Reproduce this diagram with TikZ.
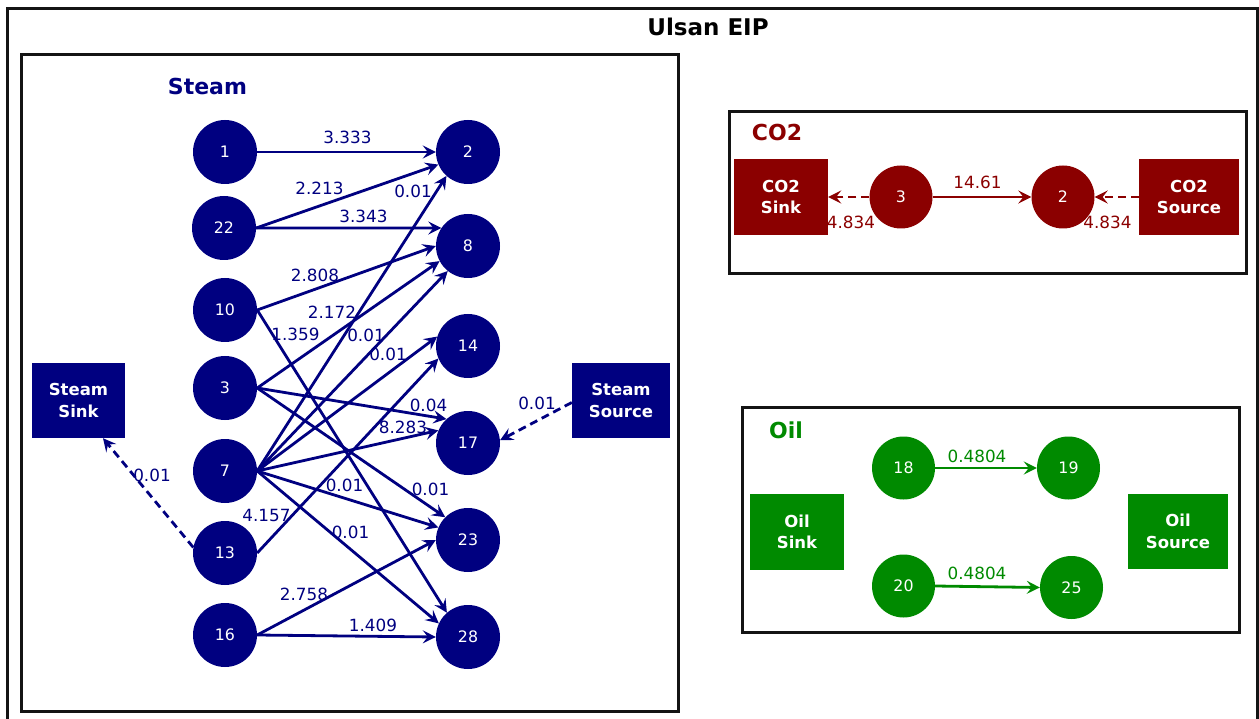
\documentclass[tikz,border=0pt]{standalone}
\usepackage{fontspec}
\setmainfont{DejaVu Sans}
\usetikzlibrary{arrows.meta,calc}
\pgfdeclarelayer{edges}
\pgfsetlayers{edges,main}
\definecolor{steam}{RGB}{0,0,128}
\definecolor{co2}{RGB}{139,0,0}
\definecolor{oil}{RGB}{0,138,0}
\newcommand\nodenumfont{\fontsize{15.8}{15.8}\selectfont}
\newcommand\edgelblfont{\fontsize{16.8}{16.8}\selectfont}
\newcommand\boxtxtfont{\fontsize{16.5}{21.5}\selectfont\bfseries}
\newcommand\secttlfont{\fontsize{22}{22}\selectfont\bfseries}
\newcommand\mainttlfont{\fontsize{23}{23}\selectfont\bfseries}
\begin{document}
\begin{tikzpicture}[x=1pt,y=-1pt,
  frame/.style={draw=black!92, line width=3pt},
  snode/.style={circle, fill=steam, minimum size=64pt, inner sep=0pt, text=white, font=\nodenumfont},
  cnode/.style={snode, fill=co2, minimum size=63pt},
  onode/.style={snode, fill=oil, minimum size=63pt},
  sbox/.style={rectangle, fill=#1, text=white, font=\boxtxtfont, align=center, inner sep=0pt},
  flow/.style={draw=#1, line width=2.8pt, -{Stealth[length=13pt,width=13pt,inset=5pt]}},
  dflow/.style={flow=#1, dash pattern=on 8pt off 5pt},
  lbl/.style={text=#1, font=\edgelblfont, inner sep=0pt},
  sect/.style={text=#1, font=\secttlfont, inner sep=0pt},
]
\path[use as bounding box] (0,0) rectangle (1259,719);
\clip (0,0) rectangle (1259,719);

% frames
\draw[frame] (7,9) rectangle (1257,760);
\draw[frame] (21,55) rectangle (678,711);
\draw[frame] (729,112) rectangle (1246,274);
\draw[frame] (742,407) rectangle (1239,632);

% titles
\node[text=black, font=\mainttlfont, inner sep=0pt] (title) at (708,26.5) {Ulsan EIP};
\node[sect=steam] (tsteam) at (207.5,86) {Steam};
\node[sect=co2] (tco2) at (777,132) {CO2};
\node[sect=oil] (toil) at (786,430) {Oil};

% steam network
\node[snode] (s1)  at (225,152) {1};
\node[snode] (s22) at (224,228) {22};
\node[snode] (s10) at (225,310) {10};
\node[snode] (s3)  at (225,388) {3};
\node[snode] (s7)  at (225,471) {7};
\node[snode] (s13) at (225,553) {13};
\node[snode] (s16) at (225,635) {16};
\node[snode] (s2)  at (468,152) {2};
\node[snode] (s8)  at (468,246) {8};
\node[snode] (s14) at (468,346) {14};
\node[snode] (s17) at (468,443) {17};
\node[snode] (s23) at (468,540) {23};
\node[snode] (s28) at (468,637) {28};
\node[sbox=steam, minimum width=93pt, minimum height=75pt] (ssink) at (78.5,400.5) {Steam\\Sink};
\node[sbox=steam, minimum width=98pt, minimum height=75pt] (ssrc) at (621,400.5) {Steam\\Source};

% CO2 network
\node[cnode] (c3) at (901,197) {3};
\node[cnode] (c2) at (1063,197) {2};
\node[sbox=co2, minimum width=94pt, minimum height=76pt] (csink) at (781,197) {CO2\\Sink};
\node[sbox=co2, minimum width=100pt, minimum height=76pt] (csrc) at (1189,197) {CO2\\Source};

% oil network
\node[onode] (o18) at (903.5,468) {18};
\node[onode] (o19) at (1068.5,468) {19};
\node[onode] (o20) at (903.5,586) {20};
\node[onode] (o25) at (1071.5,587.5) {25};
\node[sbox=oil, minimum width=94pt, minimum height=76pt] (osink) at (797,532) {Oil\\Sink};
\node[sbox=oil, minimum width=100pt, minimum height=75pt] (osrc) at (1178,531.5) {Oil\\Source};

\begin{pgfonlayer}{edges}
% steam flows
\draw[flow=steam] (s1.east) -- (s2.180);
\draw[flow=steam] (s22.east) -- (s2.203);
\draw[flow=steam] (s22.east) -- (s8.146);
\draw[flow=steam] (s10.east) -- (s8.180);
\draw[flow=steam] (s10.east) -- (s28.131);
\draw[flow=steam] (s3.east) -- (s8.208);
\draw[flow=steam] (s3.east) -- (s17.132);
\draw[flow=steam] (s3.east) -- (s23.135);
\draw[flow=steam] (s7.east) -- (s2.228);
\draw[flow=steam] (s7.east) -- (s8.231);
\draw[flow=steam] (s7.east) -- (s14.163);
\draw[flow=steam] (s7.east) -- (s17.157);
\draw[flow=steam] (s7.east) -- (s23.157);
\draw[flow=steam] (s7.east) -- (s28.155);
\draw[flow=steam] (s13.east) -- (s14.203);
\draw[flow=steam] (s16.east) -- (s23.180);
\draw[flow=steam] (s16.east) -- (s28.180);
\draw[dflow=steam] (s13.170) -- ([xshift=24.5pt]ssink.south);
\draw[dflow=steam] ([yshift=-2pt]ssrc.west) -- (s17.5);

\node[lbl=steam] (l1)  at (347.5,137) {3.333};
\node[lbl=steam] (l2)  at (319.5,188.5) {2.213};
\node[lbl=steam] (l3)  at (413,191.5) {0.01};
\node[lbl=steam] (l4)  at (363.5,216) {3.343};
\node[lbl=steam] (l5)  at (315,275) {2.808};
\node[lbl=steam] (l6)  at (332,312.5) {2.172};
\node[lbl=steam] (l7)  at (295.5,334) {1.359};
\node[lbl=steam] (l8)  at (366,335) {0.01};
\node[lbl=steam] (l9)  at (388,354.5) {0.01};
\node[lbl=steam] (l10) at (428.5,405) {0.04};
\node[lbl=steam] (l11) at (403,427.5) {8.283};
\node[lbl=steam] (l12) at (344.5,485) {0.01};
\node[lbl=steam] (l13) at (430.5,489.5) {0.01};
\node[lbl=steam] (l14) at (266.5,515) {4.157};
\node[lbl=steam] (l15) at (350.5,532.5) {0.01};
\node[lbl=steam] (l16) at (304,594) {2.758};
\node[lbl=steam] (l17) at (373,625) {1.409};
\node[lbl=steam] (l18) at (152,475) {0.01};
\node[lbl=steam] (l19) at (537,403.5) {0.01};

% CO2 flows
\draw[flow=co2] (c3.east) -- (c2.west);
\draw[dflow=co2] (c3.west) -- (csink.east);
\draw[dflow=co2] (csrc.west) -- (c2.east);
\node[lbl=co2] (l20) at (977.5,182.5) {14.61};
\node[lbl=co2] (l21) at (851,222.5) {4.834};
\node[lbl=co2] (l22) at (1107.5,222.5) {4.834};

% oil flows
\draw[flow=oil] (o18.east) -- (o19.west);
\draw[flow=oil] (o20.east) -- (o25.west);
\node[lbl=oil] (l23) at (977,456.5) {0.4804};
\node[lbl=oil] (l24) at (977,573.5) {0.4804};
\end{pgfonlayer}
\end{tikzpicture}
\end{document}
